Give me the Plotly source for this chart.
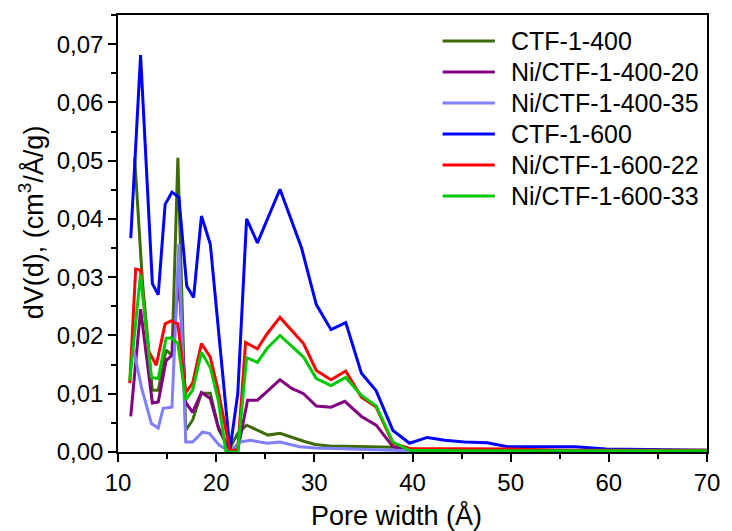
import plotly.graph_objects as go

# Pore size distributions, dV(d) in cm3/Å/g versus pore width in Å
ctf400_x = [11.7, 12.5, 13.5, 14.1, 14.9, 15.5, 16.1, 16.9, 17.6, 18.5, 19.4, 20.3, 21.4, 22.2,
            23.1, 24.2, 25.3, 26.5, 27.9, 29.0, 30.1, 31.7, 33.2, 34.8, 36.3, 38.0, 39.7, 41.5,
            45.0, 50.0, 55.0, 60.0, 65.0, 70.0]
ctf400_y = [0.0505, 0.029, 0.0106, 0.0106, 0.0175, 0.0166, 0.0505, 0.0037, 0.0055, 0.0101, 0.0101,
            0.0037, 0.0007, 0.0032, 0.0046, 0.0037, 0.0029, 0.0032, 0.0024, 0.0018, 0.0013, 0.0010,
            0.0010, 0.0009, 0.0008, 0.0008, 0.0005, 0.0004, 0.0004, 0.0003, 0.0003, 0.0002, 0.0002,
            0.0002]

ni400_20_x = [11.3, 12.3, 13.5, 14.1, 14.9, 15.5, 16.2, 16.9, 17.6, 18.5, 19.4, 20.2, 21.2, 22.2,
              23.2, 24.2, 25.2, 26.5, 27.7, 28.9, 30.2, 31.7, 33.1, 34.8, 36.3, 38.0, 39.6, 45.0,
              50.0, 60.0, 70.0]
ni400_20_y = [0.0061, 0.0245, 0.0084, 0.0086, 0.0157, 0.0166, 0.0300, 0.0085, 0.0068, 0.0102, 0.0092,
              0.0043, 0.0007, 0.0003, 0.0089, 0.0089, 0.0104, 0.0124, 0.0109, 0.0100, 0.0079, 0.0077,
              0.0087, 0.0061, 0.0046, 0.0009, 0.0003, 0.0002, 0.0002, 0.0001, 0.0001]

ni400_35_x = [11.6, 12.4, 13.4, 14.1, 14.6, 15.5, 16.2, 16.9, 17.6, 18.6, 19.3, 20.3, 21.4, 22.4,
              23.5, 25.2, 26.5, 28.5, 30.2, 32.0, 35.0, 38.0, 40.0, 45.0, 50.0, 60.0, 70.0]
ni400_35_y = [0.0175, 0.0110, 0.0049, 0.0041, 0.0075, 0.0077, 0.0357, 0.0017, 0.0017, 0.0034, 0.0032,
              0.0012, 0.0001, 0.0017, 0.0020, 0.0015, 0.0017, 0.0009, 0.0007, 0.0006, 0.0004, 0.0003,
              0.0002, 0.0002, 0.0001, 0.0001, 0.0001]

ctf600_x = [11.3, 12.3, 13.5, 14.1, 14.8, 15.5, 16.2, 17.0, 17.7, 18.5, 19.4, 21.4, 22.2, 23.1,
            24.2, 26.5, 28.7, 30.2, 31.7, 33.2, 34.8, 36.3, 38.0, 39.7, 41.5, 43.3, 45.3, 47.6,
            49.7, 56.6, 59.7, 65.0, 70.0]
ctf600_y = [0.0367, 0.0681, 0.0289, 0.0270, 0.0425, 0.0446, 0.0437, 0.0285, 0.0265, 0.0405, 0.0357,
            0.0003, 0.0100, 0.0400, 0.0359, 0.0451, 0.0350, 0.0253, 0.0210, 0.0222, 0.0135, 0.0105,
            0.0037, 0.0015, 0.0025, 0.0020, 0.0017, 0.0016, 0.0009, 0.0009, 0.0005, 0.0004, 0.0003]

ni600_22_x = [11.2, 11.8, 12.3, 13.1, 13.9, 14.8, 15.4, 16.1, 16.9, 17.6, 18.5, 19.4, 20.2, 21.4,
              22.2, 23.0, 24.2, 25.2, 26.5, 28.9, 30.2, 31.7, 33.2, 34.8, 36.3, 38.0, 39.7, 45.0,
              50.0, 55.0, 60.0, 70.0]
ni600_22_y = [0.0118, 0.0314, 0.0312, 0.0174, 0.0149, 0.0220, 0.0225, 0.0220, 0.0102, 0.0118, 0.0186,
              0.0163, 0.0106, 0.0003, 0.0003, 0.0188, 0.0177, 0.0203, 0.0231, 0.0186, 0.0140, 0.0124,
              0.0139, 0.0094, 0.0077, 0.0015, 0.0006, 0.0006, 0.0005, 0.0003, 0.0003, 0.0003]

ni600_33_x = [11.2, 12.3, 13.4, 14.1, 14.9, 15.4, 16.1, 16.9, 17.6, 18.5, 19.4, 20.2, 21.0, 22.2,
              23.1, 24.2, 25.2, 26.5, 28.9, 30.2, 31.7, 33.2, 34.8, 36.3, 38.0, 39.7, 45.0, 50.0,
              60.0, 70.0]
ni600_33_y = [0.0123, 0.0305, 0.0128, 0.0126, 0.0195, 0.0196, 0.0186, 0.0090, 0.0106, 0.0171, 0.0145,
              0.0090, 0.0000, 0.0000, 0.0162, 0.0154, 0.0178, 0.0200, 0.0163, 0.0126, 0.0114, 0.0128,
              0.0097, 0.0079, 0.0017, 0.0003, 0.0002, 0.0002, 0.0002, 0.0002]

series_names = ["CTF-1-400", "Ni/CTF-1-400-20", "Ni/CTF-1-400-35",
                "CTF-1-600", "Ni/CTF-1-600-22", "Ni/CTF-1-600-33"]
series_colors = ["#3d6b08", "#800080", "#7f7fff", "#0000ff", "#ff0000", "#00c800"]
series_data = [(ctf400_x, ctf400_y), (ni400_20_x, ni400_20_y), (ni400_35_x, ni400_35_y),
               (ctf600_x, ctf600_y), (ni600_22_x, ni600_22_y), (ni600_33_x, ni600_33_y)]

x_ticks = [10, 20, 30, 40, 50, 60, 70]
y_ticks = [0.00, 0.01, 0.02, 0.03, 0.04, 0.05, 0.06, 0.07]
y_tick_text = ["0,00", "0,01", "0,02", "0,03", "0,04", "0,05", "0,06", "0,07"]

W, H = 732, 531
L, R, T, B = 118, 17, 15, 79
font = "Liberation Sans, Arial, sans-serif"

fig = go.Figure()
for name, color, (xs, ys) in zip(series_names, series_colors, series_data):
    fig.add_trace(go.Scatter(x=xs, y=ys, mode="lines", name=name,
                             line=dict(color=color, width=3), showlegend=False))


def px_x(p):
    return (p - L) / (W - L - R)


def px_y(p):
    return (H - B - p) / (H - T - B)


# hand-placed legend in the upper right of the plot area
legend_top, legend_step = 41, 31
for i, (name, color) in enumerate(zip(series_names, series_colors)):
    yc = legend_top + i * legend_step
    fig.add_shape(type="line", xref="paper", yref="paper",
                  x0=px_x(447), x1=px_x(500), y0=px_y(yc), y1=px_y(yc),
                  line=dict(color=color, width=3))
    fig.add_annotation(xref="paper", yref="paper", x=px_x(514), y=px_y(yc),
                       text=name, showarrow=False, xanchor="left", yanchor="middle",
                       font=dict(size=25, color="black", family=font))

fig.add_annotation(xref="paper", yref="paper", x=px_x(400), y=px_y(515),
                   text="Pore width (Å)", showarrow=False, xanchor="center", yanchor="middle",
                   font=dict(size=27, color="black", family=font))
fig.add_annotation(xref="paper", yref="paper", x=px_x(30), y=px_y(222),
                   text="dV(d), (cm<sup>3</sup>/Å/g)", showarrow=False, textangle=-90,
                   xanchor="center", yanchor="middle",
                   font=dict(size=27, color="black", family=font))

axis_common = dict(showgrid=False, zeroline=False, showline=True, linecolor="black",
                   linewidth=1.5, mirror=True, ticks="outside", ticklen=8, tickwidth=1.5,
                   tickcolor="black", tickfont=dict(size=24, color="black", family=font))

fig.update_xaxes(range=[10, 70], tickvals=x_ticks,
                 minor=dict(ticks="outside", dtick=5, ticklen=5, tickwidth=1.5, tickcolor="black"),
                 **axis_common)
fig.update_yaxes(range=[0, 0.075], tickvals=y_ticks, ticktext=y_tick_text,
                 minor=dict(ticks="outside", dtick=0.005, ticklen=5, tickwidth=1.5, tickcolor="black"),
                 **axis_common)

fig.update_layout(width=W, height=H, margin=dict(l=L, r=R, t=T, b=B),
                  paper_bgcolor="white", plot_bgcolor="white",
                  font=dict(family=font, color="black"))

fig.write_html("out.html")
